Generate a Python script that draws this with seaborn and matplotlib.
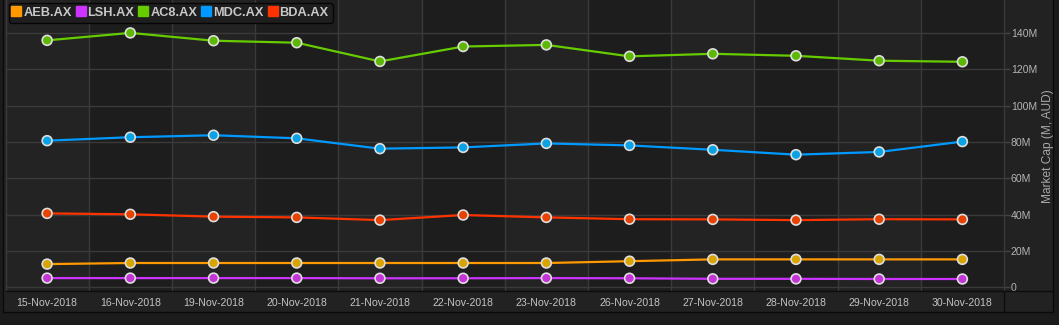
import numpy as np
import pandas as pd
import matplotlib
matplotlib.use("Agg")
import matplotlib.pyplot as plt
from matplotlib.lines import Line2D
from matplotlib.patches import Rectangle
import seaborn as sns

# ---- data -------------------------------------------------------------
dates = ["15-Nov-2018", "16-Nov-2018", "19-Nov-2018", "20-Nov-2018",
         "21-Nov-2018", "22-Nov-2018", "23-Nov-2018", "26-Nov-2018",
         "27-Nov-2018", "28-Nov-2018", "29-Nov-2018", "30-Nov-2018"]
tickers = ["AEB.AX", "LSH.AX", "AC8.AX", "MDC.AX", "BDA.AX"]

aeb = [12.8, 13.4, 13.4, 13.4, 13.4, 13.4, 13.4, 14.4, 15.4, 15.4, 15.4, 15.4]
lsh = [5.1, 5.1, 5.1, 5.1, 5.0, 5.0, 5.1, 5.0, 4.7, 4.7, 4.6, 4.6]
ac8 = [135.9, 140.0, 135.7, 134.6, 124.3, 132.5, 133.4, 127.1, 128.5, 127.4, 124.7, 124.1]
mdc = [80.7, 82.6, 83.7, 82.0, 76.3, 77.0, 79.2, 78.1, 75.7, 73.0, 74.5, 80.2]
bda = [40.7, 40.2, 38.9, 38.5, 37.0, 39.8, 38.5, 37.5, 37.4, 37.0, 37.5, 37.4]

y_ticks = [0, 20, 40, 60, 80, 100, 120, 140]
y_tick_labels = ["0", "20M", "40M", "60M", "80M", "100M", "120M", "140M"]

line_colors = ["#ff9900", "#cc33ff", "#66cc00", "#0099ff", "#ff3300"]
marker_colors = ["#d9a400", "#c335d6", "#5cb800", "#08a2e6", "#e84200"]

series = {"AEB.AX": aeb, "LSH.AX": lsh, "AC8.AX": ac8, "MDC.AX": mdc, "BDA.AX": bda}
df = pd.concat(
    [pd.DataFrame({"pos": np.arange(len(dates)), "date": dates,
                   "ticker": t, "value": series[t]}) for t in tickers],
    ignore_index=True)

# ---- figure -----------------------------------------------------------
W, H = 1059, 325
sns.set_theme(style="dark")
plt.rcParams["font.family"] = ["Liberation Sans", "DejaVu Sans"]

fig = plt.figure(figsize=(W / 100, H / 100), dpi=100)
fig.patch.set_facecolor("#1b1b1b")

# panel behind the chart
fig.add_artist(Rectangle((3 / W, (H - 312) / H), 1050 / W, 312 / H + 0.01,
                         transform=fig.transFigure, facecolor="#222222",
                         edgecolor="#0a0a0a", linewidth=1, zorder=0))

ax = fig.add_axes([5.5 / W, (H - 291) / H, 998.5 / W, 291 / H])
ax.set_facecolor("#232323")

# alternating column shading
for i in range(len(dates)):
    if i % 2 == 1:
        ax.axvspan(i - 0.5, i + 0.5, color="#1d1d1d", zorder=0, lw=0)

sns.lineplot(data=df, x="pos", y="value", hue="ticker", hue_order=tickers,
             palette=line_colors, linewidth=1.6, legend=False, ax=ax,
             zorder=2)
sns.scatterplot(data=df, x="pos", y="value", hue="ticker", hue_order=tickers,
                palette=marker_colors, s=50, edgecolor="#dedede",
                linewidth=1.2, legend=False, ax=ax, zorder=3)

ax.set_xlim(-0.5, len(dates) - 0.5)
ax.set_ylim(-2.0, 158.1)

# x axis: labels at categories, tick marks / grid between them
ax.set_xticks(np.arange(len(dates)))
ax.set_xticklabels(dates)
ax.set_xticks(np.arange(len(dates) - 1) + 0.5, minor=True)
ax.tick_params(axis="x", which="major", length=0, pad=5, labelsize=7.6,
               labelcolor="#c4c4c4")
ax.tick_params(axis="x", which="minor", length=4, width=1, color="#3c3c3c",
               direction="out")

# y axis on the right
ax.yaxis.tick_right()
ax.set_yticks(y_ticks)
ax.set_yticklabels(y_tick_labels)
ax.tick_params(axis="y", which="major", length=4, width=1, color="#444444",
               pad=1, labelsize=7.6, labelcolor="#b4b4b4")

ax.grid(True, which="minor", axis="x", color="#3a3a3a", linewidth=1)
ax.grid(True, which="major", axis="y", color="#3a3a3a", linewidth=1)
ax.grid(False, which="major", axis="x")
ax.set_axisbelow(True)

ax.set_xlabel("")
ax.set_ylabel("")

ax.spines["top"].set_visible(False)
ax.spines["left"].set_color("#3a3a3a")
ax.spines["right"].set_color("#3a3a3a")
ax.spines["bottom"].set_color("#0d0d0d")
for s in ax.spines.values():
    s.set_linewidth(1)

# frame lines around the tick-label strip
fig.add_artist(Line2D([1004 / W, 1004 / W], [(H - 291) / H, (H - 312) / H],
                      transform=fig.transFigure, color="#0d0d0d", lw=1))
fig.add_artist(Line2D([1004 / W, 1053 / W], [(H - 291) / H, (H - 291) / H],
                      transform=fig.transFigure, color="#0d0d0d", lw=1))

fig.text(1048 / W, 1 - 146 / H, "Market Cap (M, AUD)", rotation=90,
         ha="center", va="center", fontsize=8.6, color="#a8a8a8")

# legend
handles = [Line2D([], [], linestyle="none", marker="s", markersize=6.5,
                  markerfacecolor=c, markeredgecolor=c) for c in line_colors]
leg = ax.legend(handles, tickers, loc="upper left",
                bbox_to_anchor=(3 / 998.5, 1 - 3 / 291), ncol=5,
                frameon=True, fancybox=True, handlelength=0.6,
                handletextpad=0.25, columnspacing=0.4, borderpad=0.3,
                borderaxespad=0, prop={"size": 9.2, "weight": "bold"})
leg.get_frame().set_facecolor("#1e1e1e")
leg.get_frame().set_edgecolor("#050505")
leg.get_frame().set_alpha(1)
leg.get_frame().set_linewidth(1)
for txt in leg.get_texts():
    txt.set_color("#c8c8c8")

fig.savefig("out.png", dpi=100, facecolor=fig.get_facecolor())
